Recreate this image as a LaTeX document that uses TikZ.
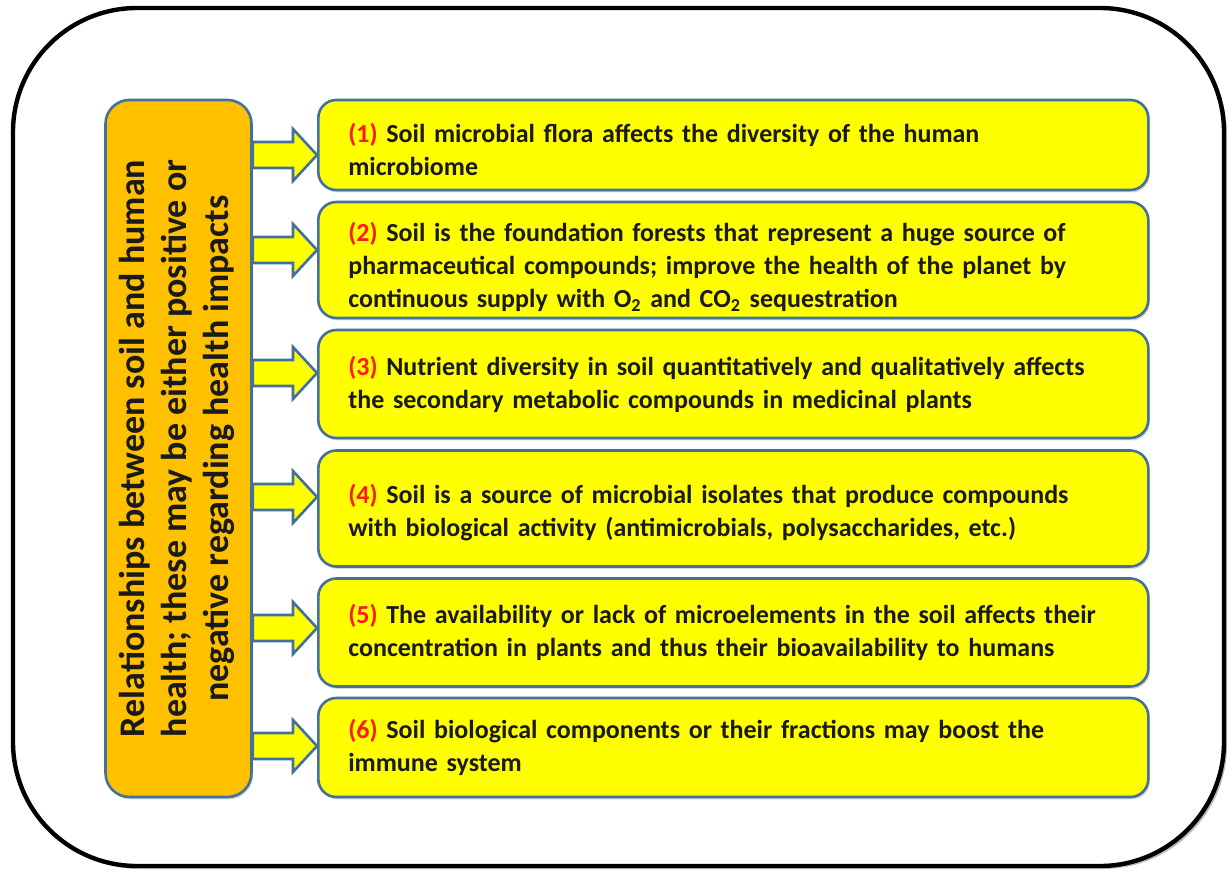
\documentclass[tikz,border=0pt]{standalone}
\usepackage{fontspec}
\setmainfont{Carlito}
\usetikzlibrary{shadows,calc}
\definecolor{bordc}{HTML}{41719C}
\definecolor{orangefill}{HTML}{FFC000}
\definecolor{yfill}{HTML}{FFFF00}
\definecolor{numred}{HTML}{FF1A1A}
\definecolor{txt}{HTML}{1A1A1A}
\newcommand\nm[1]{\textcolor{numred}{(#1)}}
\tikzset{
  frame/.style={draw=black, line width=2.2pt, rounded corners=62pt, fill=white,
    drop shadow={shadow xshift=1.5pt, shadow yshift=-1.5pt, opacity=.45, fill=black!60}},
  ybox/.style={draw=bordc, line width=1.3pt, fill=yfill, rounded corners=9pt,
    text width=385pt, align=left, inner xsep=15pt, inner ysep=0pt, anchor=west,
    text=txt, font=\bfseries\fontsize{13}{16.5}\selectfont,
    drop shadow={shadow xshift=0.8pt, shadow yshift=-1.2pt, opacity=.3, fill=black!50}},
  obox/.style={draw=bordc, line width=1.3pt, fill=orangefill, rounded corners=12pt,
    minimum width=73pt, minimum height=348.5pt, inner sep=0pt, text=txt,
    drop shadow={shadow xshift=0.8pt, shadow yshift=-1.2pt, opacity=.3, fill=black!50}},
  fatarrow/.style={draw=bordc, line width=1.3pt, fill=yfill, line join=miter}
}
\newcommand\fatarr[2]{%
  \draw[fatarrow] (L.east |- 0,#1-13) -- (293,#1-13) -- (293,#1-26)
    -- (#2.west |- 0,#1) -- (293,#1+26) -- (293,#1+13) -- (L.east |- 0,#1+13) -- cycle;}
\begin{document}
\begin{tikzpicture}[x=0.5pt,y=-0.5pt]
\fill[white] (0,0) rectangle (1232,872);
\useasboundingbox (0,0) rectangle (1232,872);
\draw[frame] (13,8) rectangle (1224,866);

\node[obox] (L) at (178.5,448.5) {\rotatebox{90}{\bfseries\fontsize{18}{21}\selectfont
  \begin{tabular}{@{}c@{}}Relationships between soil and human\\
  health; these may be either positive or\\
  negative regarding health impacts\end{tabular}}};

\node[ybox, minimum height=45pt] (b1) at (317,145)
  {\rule{0pt}{14pt}\nm{1} Soil microbial flora affects the diversity of the human\\ microbiome};
\node[ybox, minimum height=58pt] (b2) at (317,260)
  {\rule{0pt}{16.5pt}\nm{2} Soil is the foundation forests that represent a huge source of\\
   pharmaceutical compounds; improve the health of the planet by\\
   continuous supply with O\textsubscript{2} and CO\textsubscript{2} sequestration};
\node[ybox, minimum height=54pt] (b3) at (317,384)
  {\nm{3} Nutrient diversity in soil quantitatively and qualitatively affects\\
   the secondary metabolic compounds in medicinal plants};
\node[ybox, minimum height=58pt] (b4) at (317,508.5)
  {\rule{0pt}{13.5pt}\nm{4} Soil is a source of microbial isolates that produce compounds\\
   with biological activity (antimicrobials, polysaccharides, etc.)};
\node[ybox, minimum height=54pt] (b5) at (317,632.5)
  {\nm{5} The availability or lack of microelements in the soil affects their\\
   concentration in plants and thus their bioavailability to humans};
\node[ybox, minimum height=49.5pt] (b6) at (317,747.5)
  {\nm{6} Soil biological components or their fractions may boost the\\
   immune system};

\fatarr{155}{b1}
\fatarr{250}{b2}
\fatarr{373}{b3}
\fatarr{497}{b4}
\fatarr{628}{b5}
\fatarr{746}{b6}
\end{tikzpicture}
\end{document}
